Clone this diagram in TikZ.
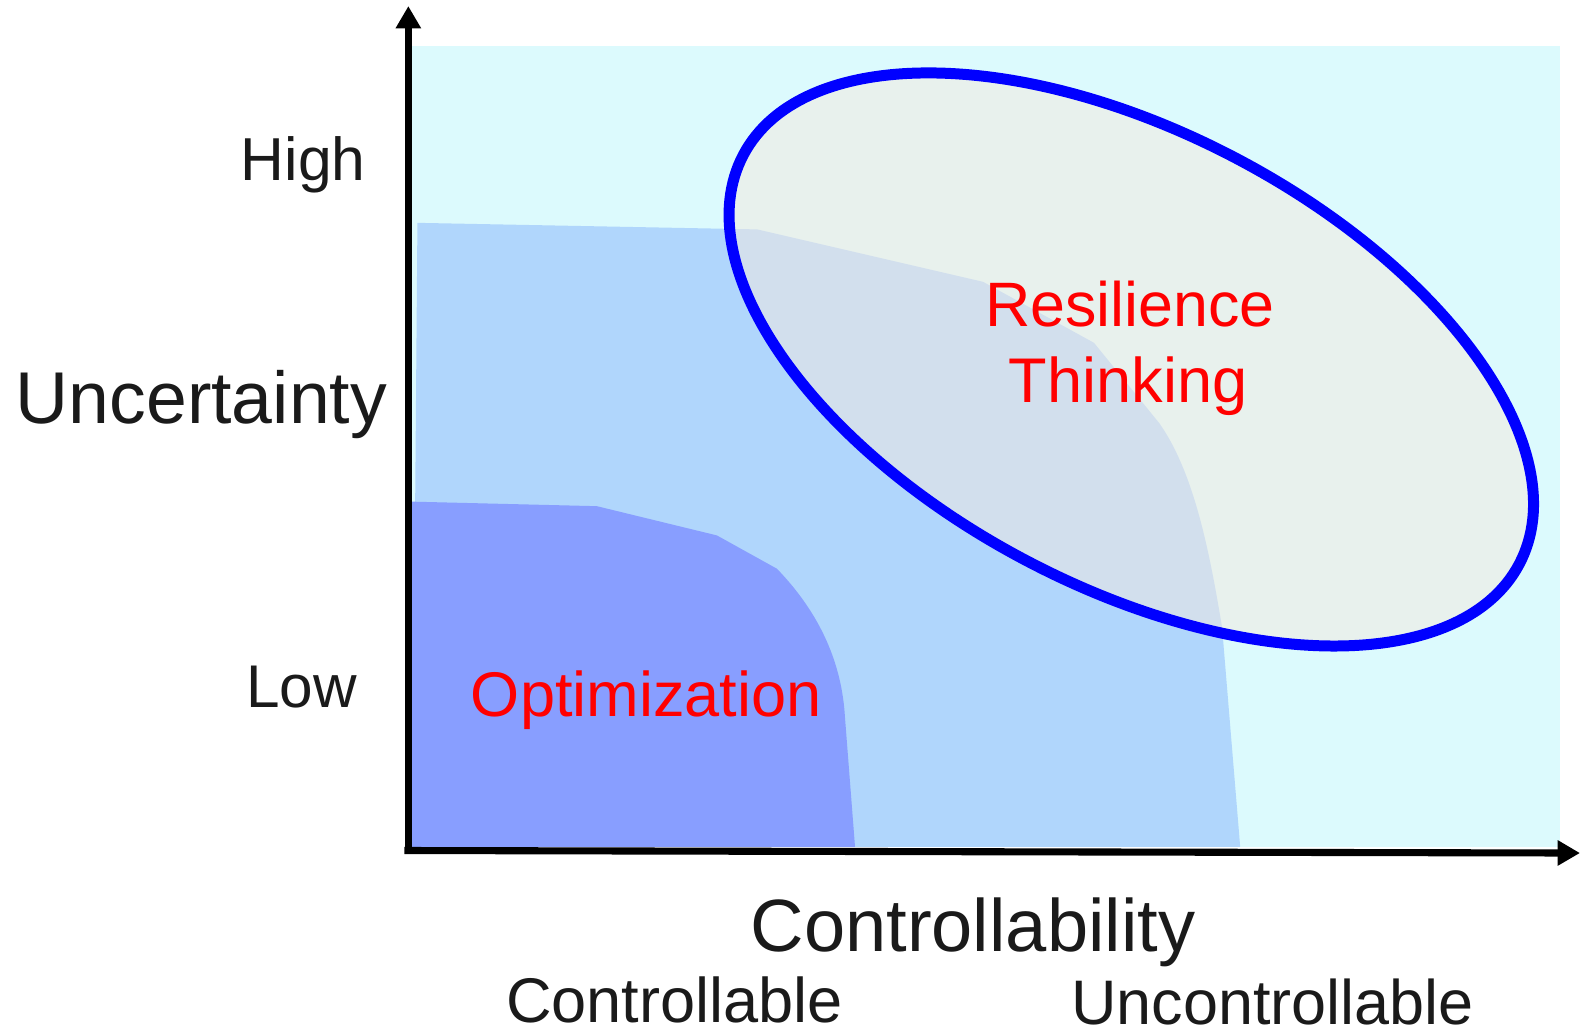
\documentclass[tikz,border=0pt]{standalone}
\usepackage{fontspec}
\setmainfont{Liberation Sans}
\usetikzlibrary{arrows.meta}
\definecolor{bgcyan}{RGB}{220,250,253}
\definecolor{midblue}{RGB}{176,214,252}
\definecolor{optblue}{RGB}{136,158,255}
\definecolor{ellfill}{RGB}{244,233,223}
\definecolor{txtgray}{RGB}{26,26,26}
\begin{document}
\begin{tikzpicture}[x=0.01cm,y=-0.01cm,
  axisline/.style={line width=2pt, draw=black, -{Triangle[length=6.3pt,width=6.8pt]}},
  lbl/.style={inner sep=0pt, anchor=base, text=txtgray},
  redlbl/.style={inner sep=0pt, anchor=base, text=red},
  ellline/.style={line width=3.1pt, draw=blue, fill=ellfill, fill opacity=0.5}]
\useasboundingbox (0,0) rectangle (1568,1020);
% background
\fill[bgcyan] (409,45.5) rectangle (1547.5,840);
% medium region
\fill[midblue] (414,221) -- (751,227.5) -- (975,279.5) -- (1085,340) -- (1150,420)
  .. controls (1185,470) and (1200,550) .. (1212,622) -- (1230,840) -- (409,840) -- cycle;
% optimization region
\fill[optblue] (408.5,497.5) -- (592,502) -- (711,531) -- (770.5,564)
  .. controls (815,610) and (835,660) .. (838,711) -- (848,840) -- (408.5,840) -- cycle;
% resilience ellipse
\draw[ellline, rotate around={-27.8:(1122,356.5)}] (1122,356.5) ellipse [x radius=435, y radius=225];
% axes
\coordinate (yfoot) at (405,847);
\coordinate (ytip) at (405,6);
\coordinate (xfoot) at (401,843.5);
\coordinate (xtip) at (1567,846);
\draw[axisline] (yfoot) -- (ytip);
\draw[axisline] (xfoot) -- (xtip);
% labels
\node[lbl, font=\fontsize{17.1}{20}\selectfont] (high) at (300.8,178.6) {High};
\node[lbl, font=\fontsize{20.7}{24}\selectfont] (unc) at (199.7,420) {Uncertainty};
\node[lbl, font=\fontsize{17.0}{20}\selectfont] (low) at (299,701.7) {Low};
\node[redlbl, font=\fontsize{17.8}{21}\selectfont] (opt) at (641,711) {Optimization};
\node[redlbl, font=\fontsize{17.7}{21}\selectfont] (res) at (1120.5,323.4) {Resilience};
\node[redlbl, font=\fontsize{17.8}{21}\selectfont] (thk) at (1119,399) {Thinking};
\node[lbl, font=\fontsize{20.9}{24}\selectfont] (ctrl) at (965,944) {Controllability};
\node[lbl, font=\fontsize{17.8}{21}\selectfont] (cable) at (669,1014) {Controllable};
\node[lbl, font=\fontsize{17.75}{21}\selectfont] (uncable) at (1262,1016.5) {Uncontrollable};
\end{tikzpicture}
\end{document}
